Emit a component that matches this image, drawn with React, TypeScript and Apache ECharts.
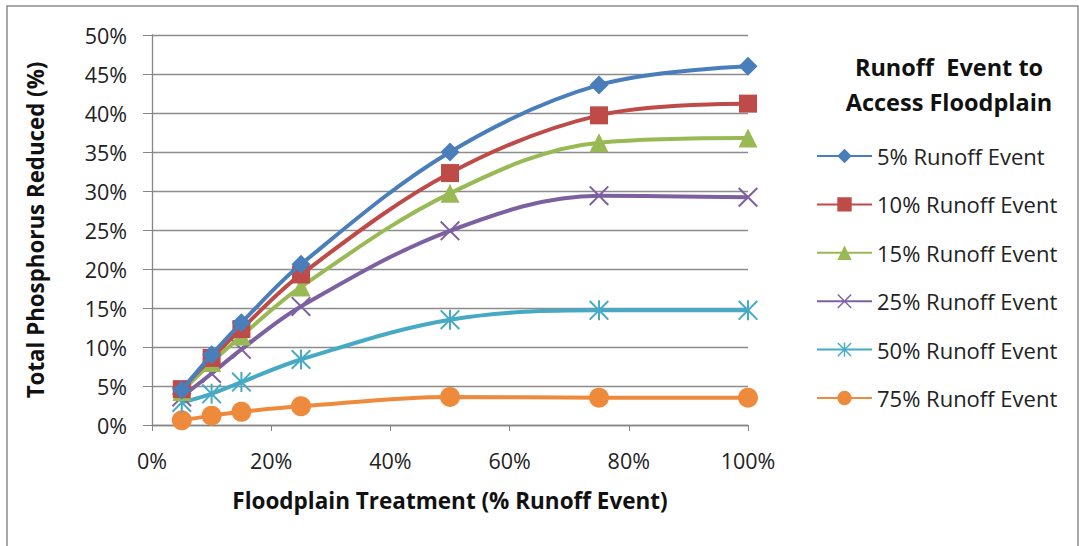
import React, { useEffect, useRef } from "react";
import * as echarts from "echarts";

const xValues = [5, 10, 15, 25, 50, 75, 100];
const seriesNames = [
  "5% Runoff Event",
  "10% Runoff Event",
  "15% Runoff Event",
  "25% Runoff Event",
  "50% Runoff Event",
  "75% Runoff Event",
];
const s5 = [4.5, 9.0, 13.1, 20.6, 35.0, 43.6, 46.0];
const s10 = [4.6, 8.6, 12.3, 19.3, 32.3, 39.7, 41.2];
const s15 = [4.3, 8.0, 11.4, 17.7, 29.7, 36.2, 36.8];
const s25 = [3.6, 6.6, 9.7, 15.2, 24.9, 29.4, 29.2];
const s50 = [2.9, 4.0, 5.5, 8.4, 13.5, 14.7, 14.7];
const s75 = [0.6, 1.2, 1.7, 2.4, 3.6, 3.5, 3.5];
const allSeries = [s5, s10, s15, s25, s50, s75];

const colors = ["#4A7EBB", "#BE4B48", "#98B954", "#7D60A0", "#46AAC5", "#EE8A3C"];

const X_PATH =
  "path://M0,7 L7,0 L50,43 L93,0 L100,7 L57,50 L100,93 L93,100 L50,57 L7,100 L0,93 L43,50 Z";
const STAR_PATH =
  "path://M0,7 L7,0 L50,43 L93,0 L100,7 L57,50 L100,93 L93,100 L50,57 L7,100 L0,93 L43,50 Z M45,0 L55,0 L55,100 L45,100 Z";
const symbols = ["diamond", "rect", "triangle", X_PATH, STAR_PATH, "circle"];
const symbolSizes = [19, 18, 19, 20, 20, 20];

const FONT = "'Open Sans', Lato, sans-serif";

export default function App() {
  const ref = useRef<HTMLDivElement>(null);
  useEffect(() => {
    if (!ref.current) return;
    const chart = echarts.init(ref.current, null, { renderer: "svg" });
    chart.setOption({
      animation: false,
      backgroundColor: "#ffffff",
      textStyle: { fontFamily: FONT },
      grid: { left: 152, right: 331, top: 35, bottom: 121 },
      xAxis: {
        type: "value",
        min: 0,
        max: 100,
        interval: 20,
        axisLine: { show: true, lineStyle: { color: "#868686", width: 1.3 } },
        axisTick: { show: true, length: 6, lineStyle: { color: "#868686" } },
        splitLine: { show: false },
        axisLabel: {
          formatter: "{value}%",
          color: "#222",
          fontSize: 21.5,
          margin: 24,
          fontFamily: FONT,
        },
      },
      yAxis: {
        type: "value",
        min: 0,
        max: 50,
        interval: 5,
        axisLine: { show: true, lineStyle: { color: "#868686", width: 1.3 } },
        axisTick: { show: true, length: 9, lineStyle: { color: "#868686" } },
        splitLine: { show: true, lineStyle: { color: "#8C8C8C", width: 1.3 } },
        axisLabel: {
          formatter: "{value}%",
          color: "#222",
          fontSize: 21.5,
          margin: 25,
          fontFamily: FONT,
        },
      },
      legend: {
        orient: "vertical",
        left: 811,
        top: 138,
        itemWidth: 55,
        itemHeight: 18,
        itemGap: 22.4,
        data: seriesNames,
        textStyle: { fontSize: 22, color: "#222", lineHeight: 26, fontFamily: FONT },
      },
      graphic: [
        {
          type: "rect",
          shape: { x: 7, y: 6, width: 1071, height: 600 },
          style: { fill: "none", stroke: "#8C8C8C", lineWidth: 1.5 },
          silent: true,
        },
        {
          type: "text",
          x: 949,
          y: 84,
          style: {
            text: "Runoff  Event to\nAccess Floodplain",
            font: `bold 23.5px ${FONT}`,
            fill: "#111",
            textAlign: "center",
            textVerticalAlign: "middle",
            lineHeight: 35,
          },
        },
        {
          type: "text",
          x: 450,
          y: 500,
          style: {
            text: "Floodplain Treatment (% Runoff Event)",
            font: `bold 22.5px ${FONT}`,
            fill: "#111",
            textAlign: "center",
            textVerticalAlign: "middle",
          },
        },
        {
          type: "text",
          x: 35,
          y: 230,
          rotation: Math.PI / 2,
          style: {
            text: "Total Phosphorus Reduced (%)",
            font: `bold 22.3px ${FONT}`,
            fill: "#111",
            textAlign: "center",
            textVerticalAlign: "middle",
          },
        },
      ],
      series: allSeries.map((vals, i) => ({
        name: seriesNames[i],
        type: "line",
        smooth: 0.35,
        data: vals.map((v, j) => [xValues[j], v]),
        symbol: symbols[i],
        symbolSize: symbolSizes[i],
        showAllSymbol: true,
        lineStyle: { color: colors[i], width: 4 },
        itemStyle: { color: colors[i], borderColor: colors[i], borderWidth: 0 },
        emphasis: { disabled: true },
        z: 10 - i,
      })),
    });
    return () => chart.dispose();
  }, []);
  return (
    <div
      ref={ref}
      style={{ position: "absolute", left: 0, top: 0, width: 1079, height: 546 }}
    />
  );
}
